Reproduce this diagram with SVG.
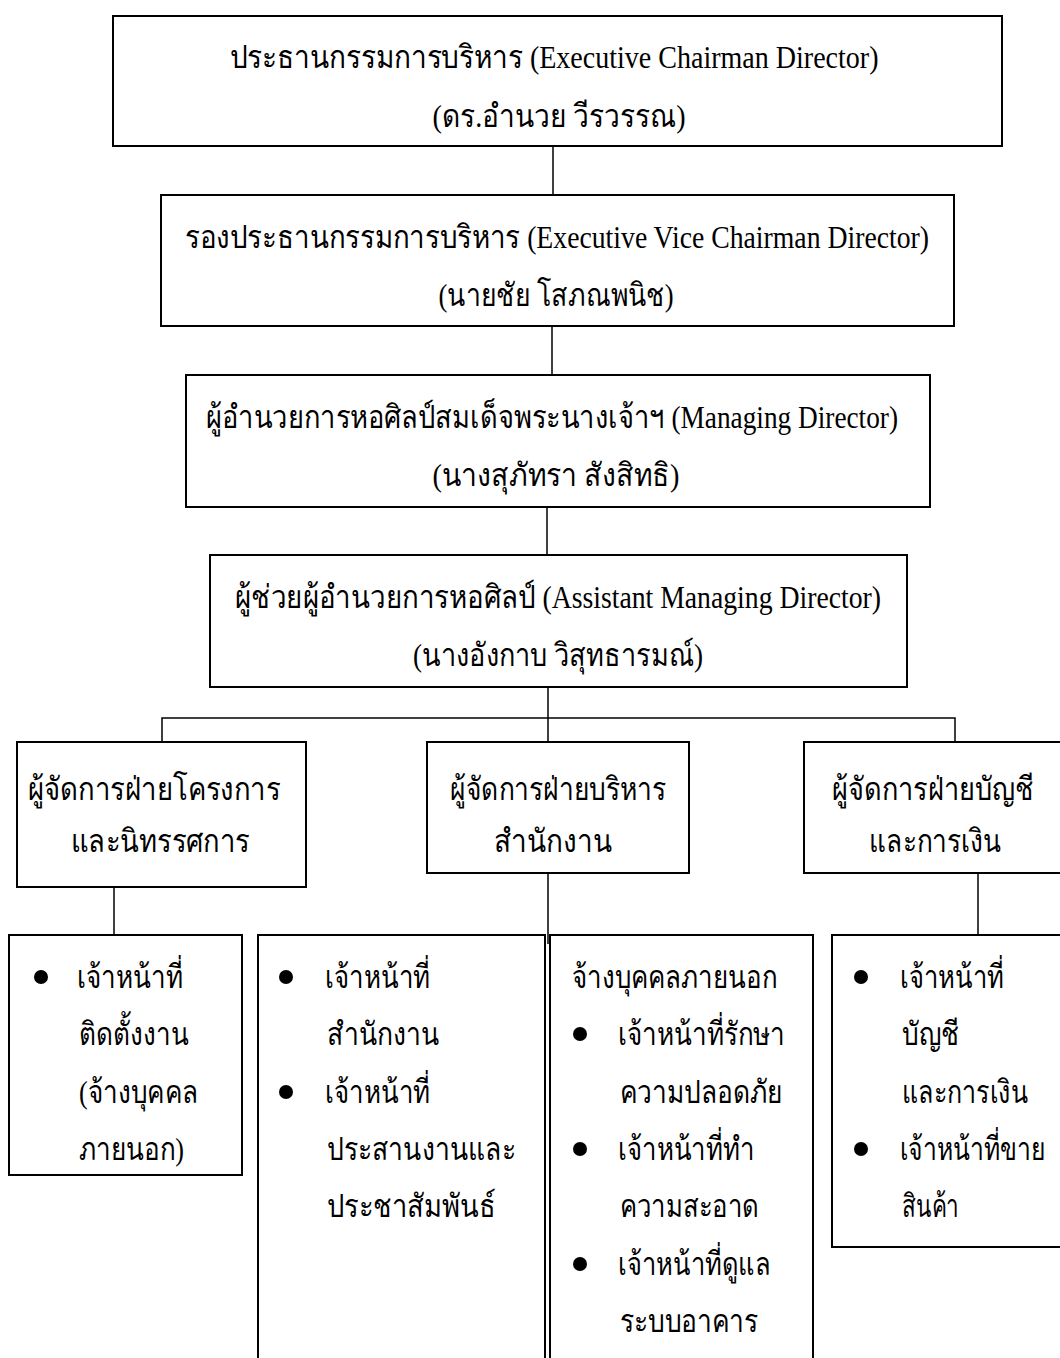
<svg xmlns="http://www.w3.org/2000/svg" width="1060" height="1358" viewBox="0 0 1060 1358">
<style>
.box{fill:#fff;stroke:#000;stroke-width:2}
.con{fill:none;stroke:#000;stroke-width:1.5}
text{font-family:"Liberation Serif","Noto Sans","DejaVu Sans",serif;font-size:32px;fill:#000}
.c{text-anchor:middle}
.b{font-size:32px}
</style>
<rect width="1060" height="1358" fill="#fff"/>
<g id="connectors">
<line class="con" x1="553" y1="146" x2="553" y2="195"/>
<line class="con" x1="552" y1="326" x2="552" y2="375"/>
<line class="con" x1="547" y1="507" x2="547" y2="555"/>
<line class="con" x1="548" y1="687" x2="548" y2="742"/>
<polyline class="con" points="162,742 162,718 955,718 955,742"/>
<line class="con" x1="114" y1="887" x2="114" y2="935"/>
<line class="con" x1="548" y1="873" x2="548" y2="944"/>
<line class="con" x1="978" y1="873" x2="978" y2="935"/>
</g>
<g id="n1">
<rect class="box" x="113" y="16" width="889" height="130"/>
<text class="c" x="554" y="68" textLength="649" lengthAdjust="spacingAndGlyphs">ประธานกรรมการบริหาร (Executive Chairman Director)</text>
<text class="c" x="559" y="127" textLength="253" lengthAdjust="spacingAndGlyphs">(ดร.อำนวย วีรวรรณ)</text>
</g>
<g id="n2">
<rect class="box" x="161" y="195" width="793" height="131"/>
<text class="c" x="557" y="248" textLength="744" lengthAdjust="spacingAndGlyphs">รองประธานกรรมการบริหาร (Executive Vice Chairman Director)</text>
<text class="c" x="556" y="306" textLength="235" lengthAdjust="spacingAndGlyphs">(นายชัย โสภณพนิช)</text>
</g>
<g id="n3">
<rect class="box" x="186" y="375" width="744" height="132"/>
<text class="c" x="552" y="428" textLength="692" lengthAdjust="spacingAndGlyphs">ผู้อำนวยการหอศิลป์สมเด็จพระนางเจ้าฯ (Managing Director)</text>
<text class="c" x="556" y="486" textLength="247" lengthAdjust="spacingAndGlyphs">(นางสุภัทรา  สังสิทธิ)</text>
</g>
<g id="n4">
<rect class="box" x="210" y="555" width="697" height="132"/>
<text class="c" x="558" y="608" textLength="646" lengthAdjust="spacingAndGlyphs">ผู้ช่วยผู้อำนวยการหอศิลป์ (Assistant Managing Director)</text>
<text class="c" x="558" y="666" textLength="290" lengthAdjust="spacingAndGlyphs">(นางอังกาบ  วิสุทธารมณ์)</text>
</g>
<g id="n5">
<rect class="box" x="17" y="742" width="289" height="145"/>
<text class="c" x="154" y="800" textLength="253" lengthAdjust="spacingAndGlyphs">ผู้จัดการฝ่ายโครงการ</text>
<text class="c" x="160" y="852" textLength="179" lengthAdjust="spacingAndGlyphs">และนิทรรศการ</text>
</g>
<g id="n6">
<rect class="box" x="427" y="742" width="262" height="131"/>
<text class="c" x="558" y="800" textLength="216" lengthAdjust="spacingAndGlyphs">ผู้จัดการฝ่ายบริหาร</text>
<text class="c" x="553" y="852" textLength="118" lengthAdjust="spacingAndGlyphs">สำนักงาน</text>
</g>
<g id="n7">
<rect class="box" x="804" y="742" width="300" height="131"/>
<text class="c" x="933" y="800" textLength="202" lengthAdjust="spacingAndGlyphs">ผู้จัดการฝ่ายบัญชี</text>
<text class="c" x="935" y="852" textLength="132" lengthAdjust="spacingAndGlyphs">และการเงิน</text>
</g>
<g id="n8">
<rect class="box" x="9" y="935" width="233" height="240"/>
<circle cx="41" cy="977" r="7"/>
<text class="b" x="77" y="988" textLength="106" lengthAdjust="spacingAndGlyphs">เจ้าหน้าที่</text>
<text class="b" x="79" y="1045" textLength="110" lengthAdjust="spacingAndGlyphs">ติดตั้งงาน</text>
<text class="b" x="79" y="1103" textLength="119" lengthAdjust="spacingAndGlyphs">(จ้างบุคคล</text>
<text class="b" x="79" y="1160" textLength="105" lengthAdjust="spacingAndGlyphs">ภายนอก)</text>
</g>
<g id="n9">
<rect class="box" x="258" y="935" width="287" height="440"/>
<circle cx="286" cy="977" r="7"/>
<text class="b" x="325" y="988" textLength="105" lengthAdjust="spacingAndGlyphs">เจ้าหน้าที่</text>
<text class="b" x="327" y="1045" textLength="112" lengthAdjust="spacingAndGlyphs">สำนักงาน</text>
<circle cx="286" cy="1092" r="7"/>
<text class="b" x="325" y="1103" textLength="105" lengthAdjust="spacingAndGlyphs">เจ้าหน้าที่</text>
<text class="b" x="327" y="1160" textLength="189" lengthAdjust="spacingAndGlyphs">ประสานงานและ</text>
<text class="b" x="327" y="1217" textLength="169" lengthAdjust="spacingAndGlyphs">ประชาสัมพันธ์</text>
</g>
<g id="n10">
<rect class="box" x="550" y="935" width="263" height="440"/>
<text class="b" x="572" y="988" textLength="205" lengthAdjust="spacingAndGlyphs">จ้างบุคคลภายนอก</text>
<circle cx="580" cy="1034" r="7"/>
<text class="b" x="618" y="1045" textLength="167" lengthAdjust="spacingAndGlyphs">เจ้าหน้าที่รักษา</text>
<text class="b" x="620" y="1103" textLength="163" lengthAdjust="spacingAndGlyphs">ความปลอดภัย</text>
<circle cx="580" cy="1149" r="7"/>
<text class="b" x="618" y="1160" textLength="136" lengthAdjust="spacingAndGlyphs">เจ้าหน้าที่ทำ</text>
<text class="b" x="620" y="1217" textLength="139" lengthAdjust="spacingAndGlyphs">ความสะอาด</text>
<circle cx="580" cy="1264" r="7"/>
<text class="b" x="618" y="1275" textLength="153" lengthAdjust="spacingAndGlyphs">เจ้าหน้าที่ดูแล</text>
<text class="b" x="620" y="1332" textLength="138" lengthAdjust="spacingAndGlyphs">ระบบอาคาร</text>
</g>
<g id="n11">
<rect class="box" x="832" y="935" width="250" height="312"/>
<circle cx="861" cy="977" r="7"/>
<text class="b" x="900" y="988" textLength="104" lengthAdjust="spacingAndGlyphs">เจ้าหน้าที่</text>
<text class="b" x="902" y="1045" textLength="57" lengthAdjust="spacingAndGlyphs">บัญชี</text>
<text class="b" x="902" y="1103" textLength="126" lengthAdjust="spacingAndGlyphs">และการเงิน</text>
<circle cx="861" cy="1149" r="7"/>
<text class="b" x="900" y="1160" textLength="146" lengthAdjust="spacingAndGlyphs">เจ้าหน้าที่ขาย</text>
<text class="b" x="902" y="1217" textLength="57" lengthAdjust="spacingAndGlyphs">สินค้า</text>
</g>
</svg>
